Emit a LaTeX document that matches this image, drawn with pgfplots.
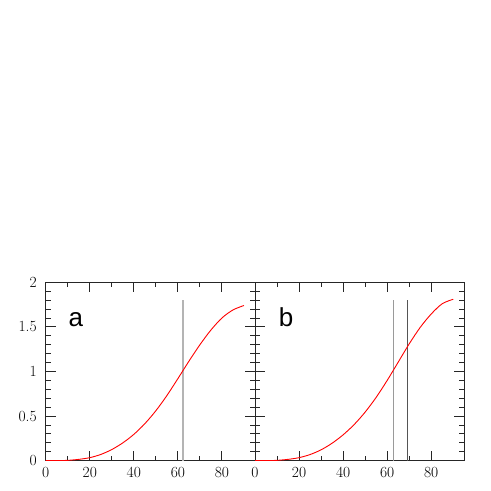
\documentclass[border=0pt]{standalone}
\usepackage{fontspec}
\usepackage{pgfplots}
\pgfplotsset{compat=1.18}
\newfontfamily\panelfont{Liberation Sans}
\definecolor{lgray}{HTML}{B4B4B4}
\definecolor{mgray}{HTML}{9A9A9A}
\definecolor{dgray}{HTML}{555555}

\pgfplotsset{
  panel/.style={
    scale only axis,
    width=209.3pt, height=178.4pt,
    xmin=0, xmax=95, ymin=0, ymax=2,
    xtick={0,20,40,60,80}, minor x tick num=1,
    ytick={0,0.5,1,1.5,2}, minor y tick num=4,
    tick align=inside, xtick pos=both, ytick pos=both,
    major tick length=10pt, minor tick length=5pt,
    axis line style={line width=0.9pt, black!85},
    every tick/.style={line width=0.9pt, black!85},
    /pgf/number format/assume math mode=true,
    tick label style={font=\fontsize{15.5pt}{15.5pt}\selectfont},
    xticklabel style={yshift=-3pt},
    yticklabel style={xshift=-5.5pt},
  },
}

\begin{document}
\begin{tikzpicture}
\useasboundingbox (-45.7pt,-30.3pt) rectangle (445.3pt,460.7pt);

% panel a
\begin{axis}[panel]
\addplot[lgray, line width=1.3pt] coordinates {(62.3,0) (62.3,1.8)};
\addplot[red, line width=0.9pt, smooth] coordinates {
  (0,0) (5,0.001) (10,0.004) (15,0.015) (20,0.034) (25,0.070)
  (30,0.125) (35,0.200) (40,0.295) (45,0.415) (50,0.560) (55,0.730)
  (60,0.920) (65,1.115) (70,1.300) (75,1.465) (80,1.600) (85,1.690) (90,1.740)
};
\node[font=\panelfont\fontsize{26}{26}\selectfont, anchor=base west, inner sep=0pt]
  at (axis cs:10.3,1.5) {a};
\end{axis}

% panel b
\begin{axis}[panel, at={(209.3pt,0pt)}, yticklabel=\empty]
\addplot[mgray, line width=1.0pt] coordinates {(63.0,0) (63.0,1.8)};
\addplot[dgray, line width=1.3pt] coordinates {(69.3,0) (69.3,1.8)};
\addplot[red, line width=0.9pt, smooth] coordinates {
  (0,0) (5,0.001) (10,0.004) (15,0.015) (20,0.034) (25,0.069)
  (30,0.122) (35,0.196) (40,0.290) (45,0.405) (50,0.545) (55,0.710)
  (60,0.900) (65,1.105) (70,1.310) (75,1.495) (80,1.645) (85,1.760) (90,1.810)
};
\node[font=\panelfont\fontsize{26}{26}\selectfont, anchor=base west, inner sep=0pt]
  at (axis cs:10.8,1.5) {b};
\end{axis}
\end{tikzpicture}
\end{document}
